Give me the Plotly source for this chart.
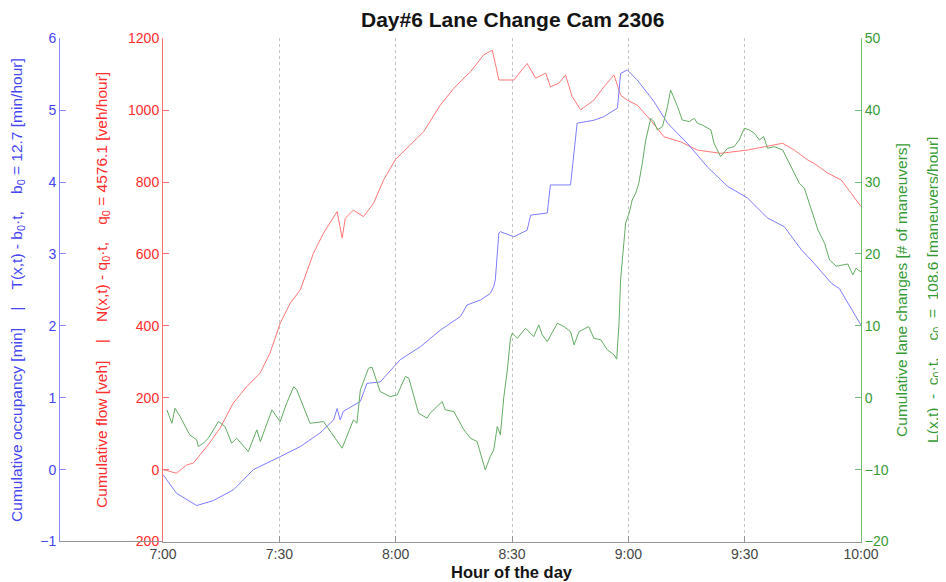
import plotly.graph_objects as go

# ---- data (minutes after 7:00) ----
flow_t = [0, 3.5, 6.1, 7.8, 11.3, 14.7, 18.1, 21.6, 25.0, 27.6, 30.2, 32.8, 35.4, 38.8, 41.4,
          44.9, 46.2, 47.0, 49.1, 51.7, 54.3, 56.9, 59.9, 62.9, 67.2, 71.5, 75.0, 77.1, 79.3,
          82.7, 84.9, 85.7, 86.6, 90.5, 93.9, 96.1, 98.7, 99.9, 102.1, 103.8, 105.5, 107.7,
          111.1, 113.7, 116.3, 118.0, 119.7, 122.3, 125.7, 129.2, 133.5, 137.8, 143.8, 150.7,
          155.0, 159.8, 162.8, 166.2, 167.9, 171.4, 174.9, 180.0]
flow_v = [0, -10, 13, 18, 64, 115, 185, 231, 268, 324, 407, 463, 500, 602, 658,
          718, 644, 699, 722, 704, 741, 806, 862, 894, 940, 1014, 1061, 1084, 1107,
          1154, 1167, 1130, 1084, 1084, 1130, 1089, 1103, 1065, 1075, 1098, 1038, 1001,
          1028, 1065, 1098, 1042, 1028, 1014, 973, 926, 912, 889, 880, 889,
          899, 908, 889, 862, 852, 825, 806, 732]

occ_t = [0, 3.5, 8.7, 13.0, 18.2, 23.3, 30.2, 35.4, 40.5, 44.0, 44.9, 45.7, 46.5, 50.9, 52.6,
         56.0, 61.2, 66.4, 71.5, 76.7, 78.4, 81.9, 84.4, 85.3, 85.7, 86.6, 87.0, 90.5, 93.9,
         94.8, 99.1, 99.9, 105.1, 106.8, 111.1, 113.7, 117.2, 118.0, 119.7, 122.3, 126.6,
         130.1, 135.2, 140.4, 145.6, 150.7, 155.9, 160.2, 164.6, 167.9, 172.4, 174.4, 180.0]
occ_v = [-0.07, -0.33, -0.50, -0.43, -0.28, 0.0, 0.18, 0.32, 0.51, 0.69, 0.85, 0.69, 0.81, 0.95, 1.20,
         1.22, 1.53, 1.71, 1.94, 2.13, 2.29, 2.36, 2.45, 2.55, 2.64, 3.29, 3.31, 3.24, 3.33,
         3.54, 3.57, 3.96, 3.96, 4.82, 4.86, 4.91, 5.03, 5.51, 5.56, 5.42, 5.12,
         4.82, 4.54, 4.21, 3.94, 3.78, 3.50, 3.38, 3.06, 2.87, 2.59, 2.52, 2.01]

lane_t = [1.0, 2.3, 3.1, 4.4, 6.9, 8.7, 9.1, 10.4, 11.7, 14.3, 16.0, 17.7, 19.0, 22.0, 24.2,
          25.1, 28.1, 30.2, 31.9, 33.7, 34.5, 37.9, 41.4, 46.2, 49.1, 50.0, 50.9, 53.0, 53.9,
          56.0, 58.6, 60.4, 62.5, 63.4, 65.9, 68.1, 68.9, 72.0, 72.8, 75.0, 77.6, 79.3, 81.0,
          83.1, 84.4, 85.3, 86.2, 87.0, 87.9, 88.8, 89.6, 90.1, 91.4, 93.5, 95.6, 96.9, 97.8,
          99.1, 101.7, 103.4, 105.1, 106.0, 107.3, 109.8, 111.1, 112.9, 114.6, 116.3, 117.0,
          117.6, 118.0, 118.4, 118.9, 119.3, 120.2, 121.0, 121.9, 122.7, 123.6, 124.5, 125.8,
          126.6, 127.5, 128.8, 130.1, 130.9, 131.8, 132.7, 133.9, 135.7, 137.0, 137.8, 139.1,
          141.3, 142.1, 143.8, 145.6, 147.3, 148.6, 149.9, 151.2, 152.5, 153.8, 154.9, 155.9,
          157.6, 159.8, 162.0, 164.1, 165.4, 167.2, 168.9, 170.6, 171.9, 173.6, 176.6, 177.9,
          178.7, 180.0]
lane_v = [-1.69, -3.55, -1.46, -2.62, -5.17, -5.86, -6.79, -6.32, -5.63, -3.32, -4.01, -6.32, -5.63, -7.49, -4.47,
          -6.1, -1.69, -3.32, -0.76, 1.55, 1.09, -3.55, -3.32, -7.02, -3.08, -3.55, 1.09, 4.11, 4.25,
          0.86, 0.16, 0.39, 2.95, 2.72, -2.15, -2.85, -2.15, -0.53, -1.69, -1.92, -4.47, -5.63, -6.1,
          -10.03, -8.18, -7.25, -4.01, -5.17, 0.16, 3.88, 8.28, 8.98, 8.28, 9.67, 8.5, 10.13, 8.74,
          7.81, 10.37, 9.9, 9.2, 7.35, 9.2, 9.9, 8.28, 8.05, 6.66, 5.96, 5.36,
          10.37, 16.4, 18.71, 22.4, 24.27, 25.66, 27.51, 28.45, 29.84, 32.62, 35.86, 38.88,
          38.41, 37.25, 37.71, 40.49, 42.81, 41.66, 40.49, 38.64, 38.41, 38.87, 38.18, 37.94,
          37.25, 35.4, 33.54, 34.7, 34.93, 35.86, 37.48, 37.25, 36.79, 35.86, 36.33, 34.7,
          34.93, 34.47, 32.15, 29.84, 29.14, 26.13, 23.34, 21.49, 19.17, 18.3, 18.6, 17.1,
          18.0, 17.5]

x_tickvals = [0, 30, 60, 90, 120, 150, 180]
x_ticktext = ["7:00", "7:30", "8:00", "8:30", "9:00", "9:30", "10:00"]

# ---- layout geometry (screen pixels; page body adds an 8px offset) ----
OFF = 8
W, H = 946 - OFF, 582 - OFF
px = lambda x: (x - OFF) / W          # screen x -> paper fraction
py = lambda y: 1 - (y - OFF) / H      # screen y -> paper fraction

X0, X1 = 163, 861      # 7:00 .. 10:00
XB = 59                # blue axis
YT, YB = 38.3, 541.5
FONT = "Liberation Sans, Arial, Helvetica, sans-serif"

BLUE_L, BLUE_T, BLUE_A = "rgb(125,125,255)", "rgb(70,70,245)", "rgb(135,135,255)"
RED_L, RED_T, RED_A = "rgb(255,120,120)", "rgb(255,45,45)", "rgb(255,110,110)"
GRN_L, GRN_T, GRN_A = "rgb(100,172,100)", "rgb(55,155,55)", "rgb(115,190,115)"

fig = go.Figure()
fig.add_trace(go.Scatter(x=occ_t, y=occ_v, mode="lines", line=dict(color=BLUE_L, width=1),
                         yaxis="y2", name="occupancy"))
fig.add_trace(go.Scatter(x=flow_t, y=flow_v, mode="lines", line=dict(color=RED_L, width=1),
                         yaxis="y", name="flow"))
fig.add_trace(go.Scatter(x=lane_t, y=lane_v, mode="lines", line=dict(color=GRN_L, width=1),
                         yaxis="y3", name="lane changes"))

ydom = [py(YB), py(YT)]
tickfont = lambda c: dict(family=FONT, size=14, color=c)

fig.update_layout(
    width=W, height=H, margin=dict(l=0, r=0, t=0, b=0, autoexpand=False),
    paper_bgcolor="white", plot_bgcolor="white", showlegend=False,
    font=dict(family=FONT),
    xaxis=dict(domain=[px(X0), px(X1)], range=[0, 180], tickvals=x_tickvals, ticktext=x_ticktext,
               showgrid=True, gridcolor="rgb(195,195,195)", griddash="dot", gridwidth=1,
               showline=True, linecolor="rgb(150,150,150)", linewidth=1,
               ticks="inside", ticklen=6, tickcolor="rgb(150,150,150)", automargin=False,
               tickfont=dict(family=FONT, size=14, color="rgb(70,70,70)"), zeroline=False),
    yaxis=dict(domain=ydom, range=[-200, 1200], tickvals=[-200, 0, 200, 400, 600, 800, 1000, 1200],
               showgrid=False, zeroline=False, showline=True, linecolor=RED_A, linewidth=1,
               ticks="inside", ticklen=6, tickcolor=RED_A, tickfont=tickfont(RED_T), anchor="x",
               automargin=False),
    yaxis2=dict(domain=ydom, range=[-1, 6], tickvals=[-1, 0, 1, 2, 3, 4, 5, 6], overlaying="y",
                anchor="free", position=px(XB), side="left", automargin=False,
                showgrid=False, zeroline=False, showline=True, linecolor=BLUE_A, linewidth=1,
                ticks="inside", ticklen=6, tickcolor=BLUE_A, tickfont=tickfont(BLUE_T)),
    yaxis3=dict(domain=ydom, range=[-20, 50], tickvals=[-20, -10, 0, 10, 20, 30, 40, 50], overlaying="y",
                anchor="x", side="right", automargin=False,
                showgrid=False, zeroline=False, showline=True, linecolor=GRN_A, linewidth=1,
                ticks="inside", ticklen=6, tickcolor=GRN_A, tickfont=tickfont(GRN_T)),
)

# bottom axis line extension to the blue axis
fig.add_shape(type="line", xref="paper", yref="paper", x0=px(XB), x1=px(X0),
              y0=py(YB), y1=py(YB), line=dict(color="rgb(150,150,150)", width=1))

S = "\u00a0"
ymid = py((YT + YB) / 2)
LBL = 15.5
ann = [
    dict(text="<b>Day#6 Lane Change Cam 2306</b>", x=px((X0 + X1) / 2), y=py(19.5),
         font=dict(family=FONT, size=21, color="rgb(20,20,20)")),
    dict(text="<b>Hour of the day</b>", x=px((X0 + X1) / 2), y=py(572),
         font=dict(family=FONT, size=16.5, color="rgb(20,20,20)")),
    dict(text=f"Cumulative occupancy [min]{S*4}|{S*4}T(x,t) - b<sub>0</sub>·t,{S*4}b<sub>0</sub> = 12.7 [min/hour]",
         x=px(18), y=ymid, textangle=-90, font=dict(family=FONT, size=LBL, color=BLUE_T)),
    dict(text=f"Cumulative flow [veh]{S*4}|{S*4}N(x,t) - q<sub>0</sub>·t,{S*4}q<sub>0</sub> = 4576.1 [veh/hour]",
         x=px(103), y=ymid, textangle=-90, font=dict(family=FONT, size=LBL, color=RED_T)),
    dict(text="Cumulative lane changes [# of maneuvers]",
         x=px(902), y=ymid, textangle=-90, font=dict(family=FONT, size=LBL, color=GRN_T)),
    dict(text=f"L(x,t){S*2}-{S*2}c<sub>0</sub>·t,{S*4}c<sub>0</sub>{S*2}={S*2}108.6 [maneuvers/hour]",
         x=px(934), y=ymid, textangle=-90, font=dict(family=FONT, size=LBL, color=GRN_T)),
]
for a in ann:
    fig.add_annotation(xref="paper", yref="paper", showarrow=False,
                       xanchor="center", yanchor="middle", **a)

fig.write_html("out.html")
